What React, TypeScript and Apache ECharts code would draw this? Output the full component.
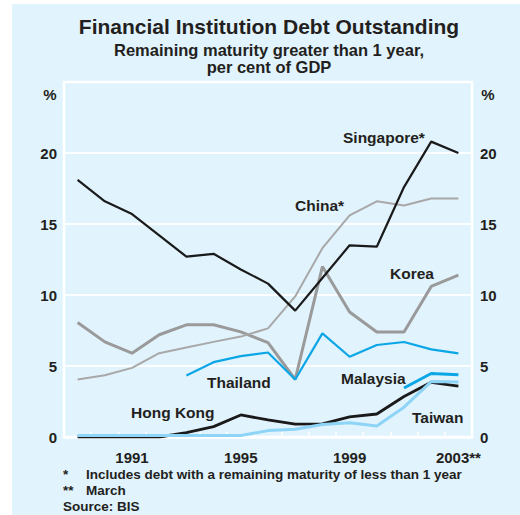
import React, { useEffect, useRef } from "react";
import * as echarts from "echarts";

const years = ["1989","1990","1991","1992","1993","1994","1995","1996","1997","1998","1999","2000","2001","2002","2003"];
const shownYearLabels: Record<string, string> = { "1991": "1991", "1995": "1995", "1999": "1999", "2003": "2003**" };
const yTicks = [0, 5, 10, 15, 20, 25];

const singapore = [18.1, 16.6, 15.7, 14.2, 12.7, 12.9, 11.8, 10.8, 8.9, 11.2, 13.5, 13.4, 17.6, 20.8, 20.0];
const china = [4.05, 4.35, 4.87, 5.9, 6.3, 6.7, 7.07, 7.65, 9.9, 13.3, 15.6, 16.6, 16.3, 16.8, 16.8];
const korea = [8.06, 6.7, 5.9, 7.2, 7.9, 7.9, 7.4, 6.65, 4.05, 12.0, 8.8, 7.4, 7.4, 10.6, 11.4];
const thailand = [null, null, null, null, 4.33, 5.27, 5.7, 5.95, 4.05, 7.3, 5.65, 6.48, 6.69, 6.17, 5.89];
const malaysia = [null, null, null, null, null, null, null, null, null, null, null, null, 3.45, 4.47, 4.38];
const hongKong = [0, 0, 0, 0, 0.3, 0.73, 1.55, 1.2, 0.9, 0.92, 1.42, 1.62, 2.85, 3.85, 3.58];
const taiwan = [0.1, 0.1, 0.1, 0.1, 0.1, 0.1, 0.1, 0.45, 0.55, 0.88, 1.0, 0.78, 2.1, 3.9, 3.87];

const FONT = "'Liberation Sans', Arial, Helvetica, sans-serif";
const TXT = "#231f20";
const BG = "#e1f3fd";
const BLACK = "#1a1a1a";
const BLUE = "#0aa6e6";
const LIGHTBLUE = "#8dd4f6";
const GREY = "#9a9a9a";
const LIGHTGREY = "#a8a8a8";

function txt(text: string, x: number, y: number, size: number, align: string = "left") {
  return {
    type: "text",
    x,
    y,
    z: 10,
    style: {
      text,
      fill: TXT,
      font: `bold ${size}px ${FONT}`,
      textAlign: align,
      textVerticalAlign: "middle",
    },
  };
}

export default function App() {
  const ref = useRef<HTMLDivElement>(null);
  useEffect(() => {
    if (!ref.current) return;
    const chart = echarts.init(ref.current, null, { renderer: "svg" });
    const line = (name: string, data: (number | null)[], color: string, width: number, z: number) => ({
      name,
      type: "line",
      data,
      symbol: "none",
      z,
      connectNulls: false,
      lineStyle: { color, width },
      itemStyle: { color },
    });
    const yAxisBase = {
      type: "value",
      min: 0,
      max: 25,
      interval: 5,
      axisLine: { show: false },
      axisTick: { show: false },
      splitLine: { show: true, lineStyle: { color: "#ffffff", width: 1.5 } },
      axisLabel: {
        color: TXT,
        fontFamily: FONT,
        fontWeight: "bold",
        fontSize: 15,
        formatter: (v: number) => (v === yTicks[yTicks.length - 1] ? "" : String(v)),
      },
    };
    chart.setOption({
      animation: false,
      backgroundColor: "#ffffff",
      grid: {
        left: 64,
        right: 48,
        top: 82,
        bottom: 78,
        show: true,
        backgroundColor: "transparent",
        borderColor: "#ffffff",
        borderWidth: 2.5,
        z: 1,
      },
      xAxis: {
        type: "category",
        data: years,
        boundaryGap: true,
        axisLine: { show: true, lineStyle: { color: "#ffffff", width: 2.5 } },
        axisTick: { show: true, inside: true, length: 5, interval: 0, lineStyle: { color: "#ffffff", width: 1.5 } },
        axisLabel: {
          interval: 0,
          margin: 13,
          color: TXT,
          fontFamily: FONT,
          fontWeight: "bold",
          fontSize: 15,
          formatter: (v: string) => shownYearLabels[v] || "",
        },
        splitLine: { show: false },
      },
      yAxis: [
        { ...yAxisBase, position: "left", axisLabel: { ...yAxisBase.axisLabel, margin: 7 } },
        { ...yAxisBase, position: "right", axisLabel: { ...yAxisBase.axisLabel, margin: 8 } },
      ],
      graphic: [
        { type: "rect", z: -10, silent: true, shape: { x: 12, y: 4, width: 520, height: 520 }, style: { fill: BG } },
        txt("Financial Institution Debt Outstanding", 269, 26, 21, "center"),
        txt("Remaining maturity greater than 1 year,", 269, 50, 16.5, "center"),
        txt("per cent of GDP", 269, 67, 16.5, "center"),
        txt("%", 50, 94, 15, "center"),
        txt("%", 488, 94, 15, "center"),
        txt("Singapore*", 343, 137, 15.5),
        txt("China*", 295, 205, 15.5),
        txt("Korea", 390, 273, 15.5),
        txt("Thailand", 207, 382, 15.5),
        txt("Malaysia", 341, 378, 15.5),
        txt("Hong Kong", 131, 412, 15.5),
        txt("Taiwan", 412, 417, 15.5),
        txt("*", 63, 474, 13.5),
        txt("Includes debt with a remaining maturity of less than 1 year", 86, 474, 13.5),
        txt("**", 63, 490, 13.5),
        txt("March", 86, 490, 13.5),
        txt("Source: BIS", 63, 506, 13.5),
      ],
      series: [
        line("Korea", korea, GREY, 3, 2),
        line("China", china, LIGHTGREY, 2, 3),
        line("Singapore", singapore, BLACK, 2.2, 4),
        line("Hong Kong", hongKong, BLACK, 2.8, 5),
        line("Taiwan", taiwan, LIGHTBLUE, 3, 6),
        line("Thailand", thailand, BLUE, 2.2, 7),
        line("Malaysia", malaysia, BLUE, 3, 8),
      ],
    });
    return () => chart.dispose();
  }, []);
  return (
    <div
      ref={ref}
      style={{ position: "fixed", left: 0, top: 0, width: 520, height: 515 }}
    />
  );
}
